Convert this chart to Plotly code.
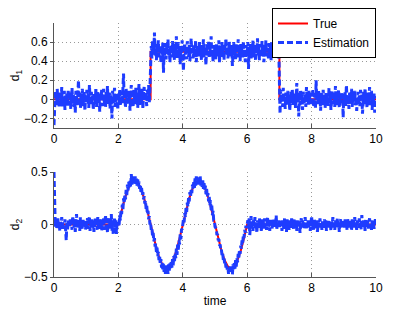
import numpy as np
import plotly.graph_objects as go

# ---- data ----
d1_true_t = [0, 3, 3, 7, 7, 10]
d1_true = [0, 0, 0.5, 0.5, 0, 0]

d2_true_t = [0, 2.0, 2.1, 2.2, 2.3, 2.4, 2.5, 2.6, 2.7, 2.8, 2.9,
             3.0, 3.1, 3.2, 3.3, 3.4, 3.5, 3.6, 3.7, 3.8, 3.9,
             4.0, 4.1, 4.2, 4.3, 4.4, 4.5, 4.6, 4.7, 4.8, 4.9,
             5.0, 5.1, 5.2, 5.3, 5.4, 5.5, 5.6, 5.7, 5.8, 5.9, 6.0, 10]
d2_true = [0, 0, 0.13, 0.25, 0.34, 0.40, 0.42, 0.40, 0.34, 0.25, 0.13,
           0, -0.13, -0.25, -0.34, -0.40, -0.42, -0.40, -0.34, -0.25, -0.13,
           0, 0.13, 0.25, 0.34, 0.40, 0.42, 0.40, 0.34, 0.25, 0.13,
           0, -0.13, -0.25, -0.34, -0.40, -0.42, -0.40, -0.34, -0.25, -0.13, 0, 0]

# estimation of d1, sampled every 0.02 s from t=0 to t=10
d1_est = [
    -0.27, -0.05, 0.08, 0.02, -0.06, 0.11, -0.03, 0.05, -0.09, 0.01, 0.07, -0.04, 0.13, -0.08, 0.03, -0.01, 0.09, -0.11, 0.04, -0.02, 0.06, -0.07, 0.10, 0.00, -0.05,
    0.08, -0.10, 0.03, 0.12, -0.04, 0.06, -0.08, 0.02, -0.14, 0.09, 0.01, -0.06, 0.05, 0.20, -0.03, 0.07, -0.09, 0.04, -0.01, 0.11, -0.07, 0.03, 0.08, -0.12, 0.02,
    -0.04, 0.10, -0.02, 0.06, -0.09, 0.15, 0.01, -0.06, 0.08, -0.03, 0.04, -0.11, 0.07, 0.00, -0.05, 0.12, -0.08, 0.03, 0.09, -0.02, 0.05, -0.13, 0.06, -0.01, 0.10,
    -0.07, 0.04, 0.11, -0.05, 0.02, -0.09, 0.08, -0.03, 0.14, -0.06, 0.01, 0.07, -0.10, 0.05, -0.02, -0.20, 0.09, -0.04, 0.03, 0.12, -0.08, 0.06, -0.01, 0.04, -0.11,
    0.06, -0.03, 0.10, -0.07, 0.02, 0.08, -0.05, 0.13, 0.27, -0.04, 0.05, -0.09, 0.11, 0.01, -0.06, 0.07, -0.02, 0.09, -0.12, 0.04, 0.15, -0.03, 0.06, -0.08, 0.10,
    0.02, -0.05, 0.12, -0.01, 0.07, -0.09, 0.04, 0.16, -0.06, 0.09, 0.03, -0.04, 0.11, -0.10, 0.05, 0.13, -0.02, 0.08, 0.01, -0.07, 0.10, 0.04, 0.15, -0.03, 0.12,
    0.50, 0.56, 0.43, 0.61, 0.48, 0.53, 0.70, 0.45, 0.58, 0.41, 0.55, 0.49, 0.62, 0.44, 0.52, 0.57, 0.38, 0.54, 0.47, 0.60, 0.28, 0.51, 0.46, 0.59, 0.42,
    0.55, 0.48, 0.63, 0.45, 0.52, 0.39, 0.57, 0.50, 0.44, 0.61, 0.47, 0.54, 0.41, 0.58, 0.49, 0.66, 0.43, 0.53, 0.60, 0.46, 0.51, 0.37, 0.56, 0.48, 0.62,
    0.44, 0.30, 0.53, 0.59, 0.47, 0.55, 0.42, 0.61, 0.50, 0.45, 0.57, 0.40, 0.52, 0.64, 0.48, 0.54, 0.43, 0.58, 0.46, 0.51, 0.62, 0.39, 0.56, 0.49, 0.53,
    0.45, 0.60, 0.47, 0.52, 0.41, 0.57, 0.50, 0.63, 0.44, 0.55, 0.48, 0.36, 0.58, 0.51, 0.46, 0.61, 0.43, 0.54, 0.49, 0.66, 0.45, 0.52, 0.40, 0.57, 0.50,
    0.55, 0.42, 0.59, 0.48, 0.53, 0.45, 0.62, 0.38, 0.56, 0.50, 0.44, 0.60, 0.47, 0.53, 0.41, 0.58, 0.51, 0.64, 0.46, 0.55, 0.43, 0.49, 0.61, 0.45, 0.54,
    0.48, 0.57, 0.35, 0.52, 0.60, 0.46, 0.55, 0.42, 0.59, 0.50, 0.44, 0.63, 0.47, 0.53, 0.40, 0.58, 0.49, 0.55, 0.43, 0.61, 0.46, 0.52, 0.39, 0.57, 0.50,
    0.45, 0.60, 0.32, 0.54, 0.48, 0.58, 0.42, 0.55, 0.47, 0.62, 0.44, 0.51, 0.57, 0.40, 0.53, 0.49, 0.64, 0.46, 0.55, 0.41, 0.58, 0.50, 0.44, 0.61, 0.47,
    0.53, 0.39, 0.57, 0.48, 0.62, 0.45, 0.54, 0.50, 0.43, 0.59, 0.47, 0.56, 0.41, 0.60, 0.52, 0.46, 0.63, 0.49, 0.55, 0.44, 0.68, 0.51, 0.57, 0.47, 0.54,
    0.04, -0.15, 0.10, -0.03, 0.06, -0.08, 0.12, -0.01, 0.03, -0.10, 0.07, -0.05, 0.02, 0.09, -0.07, 0.05, -0.12, 0.01, 0.08, -0.04, 0.11, -0.06, 0.03, -0.02, 0.06,
    -0.09, 0.04, 0.17, -0.03, 0.07, -0.18, 0.02, -0.06, 0.10, -0.01, 0.05, -0.11, 0.08, 0.00, -0.04, 0.06, -0.08, 0.13, -0.02, 0.04, -0.07, 0.09, 0.01, -0.05, 0.03,
    0.07, -0.03, 0.11, -0.08, 0.02, 0.05, -0.10, 0.20, -0.01, 0.06, -0.05, 0.09, -0.02, 0.04, -0.12, 0.07, 0.01, -0.06, 0.10, -0.03, 0.05, -0.09, 0.03, 0.08, -0.04,
    0.02, -0.07, 0.12, -0.01, 0.06, -0.11, 0.04, 0.09, -0.05, 0.01, 0.07, -0.08, 0.14, -0.02, 0.05, -0.06, 0.03, 0.10, -0.09, 0.02, -0.04, 0.08, -0.01, 0.05, -0.19,
    0.06, -0.03, 0.09, -0.07, 0.15, 0.01, -0.05, 0.04, -0.10, 0.07, 0.02, -0.04, 0.11, -0.08, 0.03, 0.06, -0.02, 0.09, -0.06, 0.01, -0.12, 0.05, 0.08, -0.03, 0.04,
    -0.07, 0.10, -0.01, 0.05, -0.15, 0.03, 0.08, -0.05, 0.12, -0.02, 0.06, -0.09, 0.02, 0.07, -0.04, 0.13, -0.06, 0.01, 0.09, -0.11, 0.04, -0.02, 0.06, -0.14, 0.03,
    0.01,
]

# estimation of d2, sampled every 0.02 s from t=0 to t=10
d2_est = [
    0.50, 0.03, -0.02, 0.05, -0.04, 0.01, 0.06, -0.03, 0.02, -0.06, 0.04, -0.01, 0.07, -0.05, 0.02, 0.00, -0.04, 0.05, -0.02, -0.15, 0.03, -0.06, 0.04, 0.01, -0.03,
    0.06, -0.02, 0.03, -0.05, 0.08, 0.00, -0.03, 0.04, -0.07, 0.02, 0.10, -0.04, 0.05, -0.01, 0.03, -0.06, 0.07, -0.02, 0.01, -0.04, 0.06, -0.03, 0.02, 0.05, -0.05,
    0.03, -0.01, 0.06, -0.04, 0.02, 0.08, -0.06, 0.01, -0.02, 0.05, -0.03, 0.04, -0.07, 0.02, 0.06, -0.01, 0.03, -0.05, 0.07, -0.02, 0.01, -0.04, 0.05, 0.00, -0.06,
    0.04, -0.02, 0.07, -0.05, 0.02, 0.09, -0.03, 0.05, -0.08, 0.01, 0.06, -0.04, 0.03, -0.01, 0.10, -0.06, 0.04, -0.10, 0.02, 0.07, -0.03, 0.05, -0.09, 0.03, 0.01,
    0.02, -0.02, 0.09, 0.04, 0.14, 0.10, 0.19, 0.14, 0.25, 0.20, 0.29, 0.24, 0.33, 0.28, 0.38, 0.32, 0.41, 0.34, 0.43, 0.36, 0.48, 0.38, 0.46, 0.39, 0.45,
    0.40, 0.46, 0.38, 0.44, 0.37, 0.43, 0.36, 0.41, 0.34, 0.38, 0.31, 0.35, 0.28, 0.31, 0.24, 0.27, 0.20, 0.23, 0.15, 0.18, 0.10, 0.13, 0.05, 0.08, 0.00,
    0.02, -0.05, -0.03, -0.11, -0.08, -0.16, -0.13, -0.21, -0.18, -0.26, -0.22, -0.30, -0.26, -0.34, -0.30, -0.38, -0.33, -0.41, -0.36, -0.44, -0.37, -0.46, -0.39, -0.47, -0.40,
    -0.45, -0.39, -0.47, -0.38, -0.44, -0.37, -0.43, -0.35, -0.41, -0.33, -0.39, -0.30, -0.36, -0.27, -0.32, -0.23, -0.29, -0.19, -0.24, -0.15, -0.19, -0.09, -0.14, -0.04, -0.05,
    0.00, 0.05, 0.02, 0.11, 0.07, 0.16, 0.12, 0.21, 0.17, 0.26, 0.22, 0.31, 0.26, 0.34, 0.30, 0.38, 0.33, 0.41, 0.35, 0.44, 0.37, 0.46, 0.38, 0.45, 0.39,
    0.44, 0.38, 0.46, 0.37, 0.43, 0.36, 0.42, 0.34, 0.40, 0.32, 0.37, 0.29, 0.34, 0.26, 0.30, 0.22, 0.27, 0.18, 0.23, 0.14, 0.18, 0.09, 0.13, 0.04, 0.04,
    -0.02, -0.04, -0.04, -0.10, -0.09, -0.15, -0.14, -0.20, -0.19, -0.25, -0.24, -0.30, -0.28, -0.34, -0.32, -0.37, -0.35, -0.41, -0.38, -0.43, -0.40, -0.47, -0.41, -0.46, -0.40,
    -0.45, -0.39, -0.48, -0.38, -0.44, -0.36, -0.42, -0.34, -0.40, -0.32, -0.36, -0.28, -0.32, -0.24, -0.28, -0.20, -0.23, -0.15, -0.18, -0.10, -0.13, -0.05, -0.08, -0.01, -0.03,
    0.01, 0.04, -0.03, 0.06, -0.10, 0.02, 0.08, -0.04, 0.03, -0.06, 0.05, -0.01, 0.07, -0.05, 0.02, -0.08, 0.04, 0.00, -0.03, 0.06, -0.02, 0.03, -0.07, 0.05, -0.01,
    0.03, -0.04, 0.06, -0.02, 0.01, -0.05, 0.04, 0.07, -0.03, 0.02, -0.06, 0.05, -0.01, 0.03, -0.04, 0.06, 0.00, -0.03, 0.05, -0.02, 0.09, -0.04, 0.02, -0.01, 0.04,
    -0.03, 0.05, -0.02, 0.03, -0.06, 0.04, 0.01, -0.04, 0.06, -0.02, 0.02, -0.07, 0.05, -0.01, 0.03, -0.05, 0.04, 0.01, -0.03, 0.06, -0.02, 0.02, -0.04, 0.05, 0.00,
    -0.03, 0.04, -0.06, 0.02, 0.05, -0.02, 0.03, -0.08, 0.01, 0.06, -0.03, 0.04, -0.01, 0.02, -0.05, 0.07, -0.02, 0.03, -0.04, 0.01, 0.05, -0.03, 0.02, -0.06, 0.04,
    0.08, -0.02, 0.03, -0.05, 0.06, -0.01, 0.02, -0.04, 0.05, -0.07, 0.01, 0.04, -0.03, 0.06, -0.02, 0.02, -0.05, 0.03, 0.00, -0.03, 0.05, -0.01, 0.04, -0.06, 0.02,
    -0.02, 0.05, -0.04, 0.03, 0.01, -0.06, 0.04, -0.01, 0.07, -0.03, 0.02, -0.05, 0.04, 0.00, -0.02, 0.06, -0.04, 0.02, -0.07, 0.03, 0.05, -0.02, 0.01, -0.04, 0.04,
    0.02, -0.03, 0.05, -0.01, 0.03, -0.05, 0.06, -0.02, 0.01, -0.04, 0.04, 0.02, -0.06, 0.05, -0.01, 0.03, -0.03, 0.07, -0.02, 0.01, -0.05, 0.04, 0.00, -0.03, 0.06,
    -0.02, 0.03, -0.05, 0.09, -0.01, 0.04, -0.03, 0.02, -0.06, 0.05, 0.01, -0.02, 0.04, -0.04, 0.03, 0.06, -0.03, 0.01, -0.05, 0.04, -0.01, 0.03, -0.04, 0.02, 0.05,
    0.00,
]

t1 = np.linspace(0, 10, len(d1_est))
t2 = np.linspace(0, 10, len(d2_est))

x_ticks = [0, 2, 4, 6, 8, 10]
y1_ticks = [-0.2, 0, 0.2, 0.4, 0.6]
y1_labels = ["\u22120.2", "0", "0.2", "0.4", "0.6"]
y2_ticks = [-0.5, 0, 0.5]
y2_labels = ["\u22120.5", "0", "0.5"]

RED = "rgb(255,0,0)"
BLUE = "rgb(30,60,255)"
FONT = "Liberation Sans, Arial, sans-serif"

fig = go.Figure()
fig.add_trace(go.Scatter(x=d1_true_t, y=d1_true, mode="lines", name="True",
                         line=dict(color=RED, width=2), xaxis="x", yaxis="y"))
fig.add_trace(go.Scatter(x=t1, y=d1_est, mode="lines", name="Estimation",
                         line=dict(color=BLUE, width=3, dash="6px,3px"), xaxis="x", yaxis="y"))
fig.add_trace(go.Scatter(x=d2_true_t, y=d2_true, mode="lines", showlegend=False,
                         line=dict(color=RED, width=2), xaxis="x2", yaxis="y2"))
fig.add_trace(go.Scatter(x=t2, y=d2_est, mode="lines", showlegend=False,
                         line=dict(color=BLUE, width=3, dash="6px,3px"), xaxis="x2", yaxis="y2"))

axis_common = dict(showline=True, linecolor="#555", linewidth=1,
                   tickcolor="#555", showgrid=True, gridcolor="#999", griddash="1px,3px", gridwidth=1,
                   zeroline=False, automargin=False, tickfont=dict(size=12, color="black"))
x_style = dict(ticks="inside", ticklen=4, **axis_common)
y_style = dict(ticks="outside", ticklen=3, **axis_common)

# the page body has an 8px default margin, so the figure is laid out relative to that
fig.update_layout(
    width=415, height=312,
    margin=dict(l=46, r=47, t=0, b=43, autoexpand=False),
    paper_bgcolor="white", plot_bgcolor="white",
    font=dict(family=FONT, size=12, color="black"),
    xaxis=dict(domain=[0, 1], range=[0, 10], tickvals=x_ticks, anchor="y", **x_style),
    yaxis=dict(domain=[0.554, 0.944], range=[-0.3, 0.8], tickvals=y1_ticks, ticktext=y1_labels,
               anchor="x", title=dict(text="d<sub>1</sub>", standoff=6, font=dict(size=12)), **y_style),
    xaxis2=dict(domain=[0, 1], range=[0, 10], tickvals=x_ticks, anchor="y2",
                title=dict(text="time", standoff=2, font=dict(size=12)), **x_style),
    yaxis2=dict(domain=[0, 0.390], range=[-0.5, 0.5], tickvals=y2_ticks, ticktext=y2_labels,
                anchor="x2", title=dict(text="d<sub>2</sub>", standoff=6, font=dict(size=12)), **y_style),
    legend=dict(x=1.0, y=1.0, xanchor="right", yanchor="top", bgcolor="white",
                bordercolor="black", borderwidth=1, font=dict(size=12), tracegroupgap=0,
                itemwidth=30),
    showlegend=True,
)

fig.write_html("out.html")
